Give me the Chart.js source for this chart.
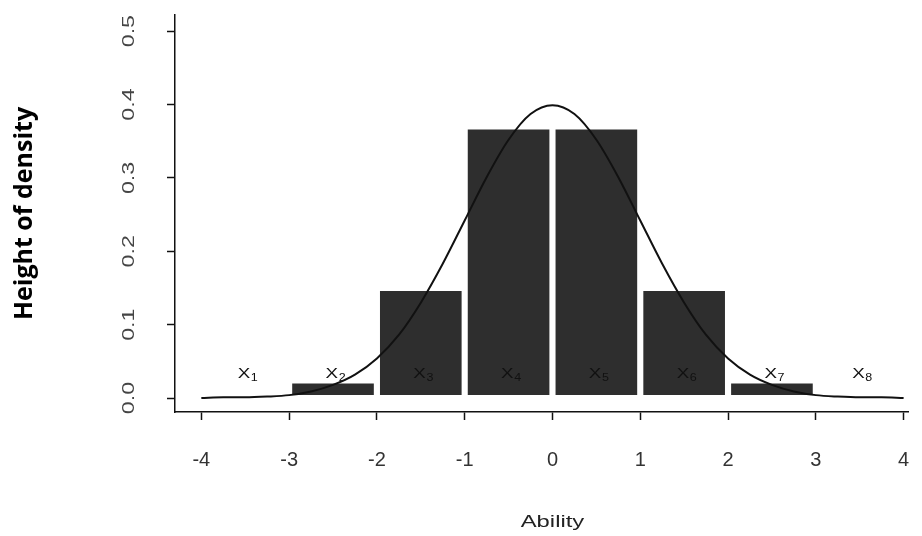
<!DOCTYPE html>
<html>
<head>
<meta charset="utf-8">
<script src="https://cdn.jsdelivr.net/npm/chart.js@4"></script>
<style>
  html, body { margin: 0; padding: 0; background: #ffffff; }
  #wrap { width: 922px; height: 536px; position: relative; }
</style>
</head>
<body>
<div id="wrap"><canvas id="c"></canvas></div>
<script>
// ---- data ----
const barCenters = [-2.5, -1.5, -0.5, 0.5, 1.5, 2.5];
const barHeights = [0.020, 0.146, 0.366, 0.366, 0.146, 0.020];
const barBottom = 0.004;

const curveX = [-4, -3.75, -3.5, -3.25, -3, -2.75, -2.5, -2.25, -2, -1.75, -1.5, -1.25, -1, -0.75, -0.5, -0.25,
                0, 0.25, 0.5, 0.75, 1, 1.25, 1.5, 1.75, 2, 2.25, 2.5, 2.75, 3, 3.25, 3.5, 3.75, 4];
const curveY = [0.000, 0.001, 0.001, 0.002, 0.004, 0.009, 0.018, 0.032, 0.054, 0.086, 0.130, 0.183, 0.242, 0.301, 0.352, 0.387,
                0.399, 0.387, 0.352, 0.301, 0.242, 0.183, 0.130, 0.086, 0.054, 0.032, 0.018, 0.009, 0.004, 0.002, 0.001, 0.001, 0.000];

const regionLetters = ['X', 'X', 'X', 'X', 'X', 'X', 'X', 'X'];
const regionSubs = ['1', '2', '3', '4', '5', '6', '7', '8'];
const regionCenters = [-3.5, -2.5, -1.5, -0.5, 0.5, 1.5, 2.5, 3.5];
const regionLabelY = 0.027;

const xTicks = [-4, -3, -2, -1, 0, 1, 2, 3, 4];
const yTicks = [0.0, 0.1, 0.2, 0.3, 0.4, 0.5];
const yTickLabels = ['0.0', '0.1', '0.2', '0.3', '0.4', '0.5'];

const xTitle = 'Ability';
const yTitle = 'Height of density';

// ---- chart ----
const barData = barCenters.map((c, i) => ({ x: c, y: [barBottom, barHeights[i]] }));
const curveData = curveX.map((x, i) => ({ x: x, y: curveY[i] }));

const overlayPlugin = {
  id: 'overlay',
  afterDraw(chart) {
    const ctx = chart.ctx;
    const xs = chart.scales.x, ys = chart.scales.y;
    // rotated y tick labels
    ctx.save();
    ctx.fillStyle = '#444444';
    ctx.font = '16px "Liberation Sans", Arial, sans-serif';
    ctx.textAlign = 'center';
    ctx.textBaseline = 'middle';
    yTicks.forEach((v, i) => {
      const py = ys.getPixelForValue(v);
      ctx.save();
      ctx.translate(ys.right - 45, py);
      ctx.rotate(-Math.PI / 2);
      ctx.scale(1.45, 1);
      ctx.fillText(yTickLabels[i], 0, 0);
      ctx.restore();
    });
    ctx.restore();
    // x axis title
    ctx.save();
    ctx.fillStyle = '#222222';
    ctx.font = '17px "Liberation Sans", Arial, sans-serif';
    ctx.textAlign = 'center';
    ctx.textBaseline = 'middle';
    ctx.translate(xs.getPixelForValue(0), 522);
    ctx.scale(1.4, 1);
    ctx.fillText(xTitle, 0, 0);
    ctx.restore();
    // region labels X1..X8
    ctx.save();
    ctx.fillStyle = '#111111';
    ctx.textBaseline = 'alphabetic';
    regionCenters.forEach((c, i) => {
      const px = xs.getPixelForValue(c);
      const py = ys.getPixelForValue(regionLabelY);
      ctx.save();
      ctx.translate(px, py);
      ctx.scale(1.25, 1);
      ctx.font = '15px "Liberation Sans", Arial, sans-serif';
      ctx.textAlign = 'right';
      ctx.fillText(regionLetters[i], 4, 0);
      ctx.font = '10px "Liberation Sans", Arial, sans-serif';
      ctx.textAlign = 'left';
      ctx.fillText(regionSubs[i], 4.5, 3);
      ctx.restore();
    });
    ctx.restore();
  }
};

new Chart(document.getElementById('c'), {
  type: 'bar',
  data: {
    datasets: [
      {
        type: 'line',
        data: curveData,
        borderColor: '#111111',
        borderWidth: 2,
        pointRadius: 0,
        fill: false,
        cubicInterpolationMode: 'monotone',
        order: 0
      },
      {
        type: 'bar',
        data: barData,
        backgroundColor: '#2e2e2e',
        borderWidth: 0,
        barPercentage: 1.0,
        categoryPercentage: 0.93,
        order: 1
      }
    ]
  },
  options: {
    responsive: true,
    maintainAspectRatio: false,
    animation: false,
    devicePixelRatio: 1,
    layout: { padding: { left: 0, right: 14, top: 15, bottom: 0 } },
    plugins: { legend: { display: false }, tooltip: { enabled: false } },
    scales: {
      x: {
        type: 'linear',
        offset: false,
        min: -4.3,
        max: 4.05,
        afterBuildTicks(scale) { scale.ticks = xTicks.map(v => ({ value: v })); },
        afterFit(scale) { scale.height = 124; scale.paddingLeft = 0; scale.paddingRight = 0; },
        grid: { drawOnChartArea: false, drawTicks: true, tickLength: 8, tickColor: '#111111', tickWidth: 1.5, offset: false },
        border: { display: true, color: '#111111', width: 1.5 },
        ticks: {
          color: '#333333',
          font: { family: '"Liberation Sans", Arial, sans-serif', size: 20 },
          padding: 28,
          maxRotation: 0,
          autoSkip: false,
          callback: (v) => String(v)
        },
        title: { display: false, text: xTitle }
      },
      y: {
        type: 'linear',
        min: -0.019,
        max: 0.522,
        afterBuildTicks(scale) { scale.ticks = yTicks.map(v => ({ value: v })); },
        afterFit(scale) { scale.width = 175; scale.paddingTop = 0; scale.paddingBottom = 0; },
        grid: { drawOnChartArea: false, drawTicks: true, tickLength: 8, tickColor: '#111111', tickWidth: 1.5 },
        border: { display: true, color: '#111111', width: 1.5 },
        ticks: { display: false },
        title: {
          display: true,
          text: yTitle,
          color: '#000000',
          font: { family: '"Open Sans", sans-serif', size: 25, weight: 'bold' },
          padding: { top: 10, bottom: 0 }
        }
      }
    }
  },
  plugins: [overlayPlugin]
});
</script>
</body>
</html>
